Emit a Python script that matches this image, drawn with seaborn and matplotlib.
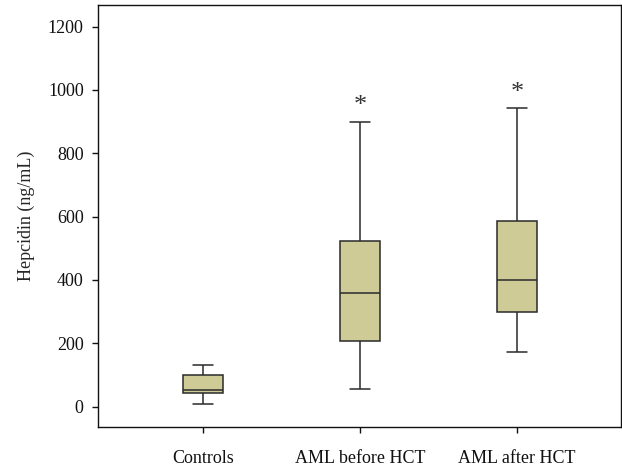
import pandas as pd
import seaborn as sns
import matplotlib
matplotlib.use("Agg")
import matplotlib.pyplot as plt

# five-number summaries (min, q1, median, q3, max)
groups = ["Controls", "AML before HCT", "AML after HCT"]
controls = [10, 42, 54, 99, 133]
aml_before = [57, 208, 359, 522, 900]
aml_after = [174, 298, 400, 585, 943]
starred = [False, True, True]

box_color = "#cfcb97"
line_color = "#2a2a2a"


def set_config():
    sns.set_style("ticks")
    plt.rcParams["font.family"] = ["Liberation Serif", "DejaVu Serif"]
    plt.rcParams["font.size"] = 13
    plt.rcParams["axes.linewidth"] = 1.0


def main():
    set_config()

    values = [controls, aml_before, aml_after]
    df = pd.DataFrame(
        [(g, v) for g, vals in zip(groups, values) for v in vals],
        columns=["group", "hepcidin"],
    )

    fig = plt.figure(figsize=(6.22, 4.71), dpi=100)
    ax = fig.add_axes([0.158, 0.0928, 0.8396, 0.8966])

    sns.boxplot(
        data=df, x="group", y="hepcidin", order=groups,
        whis=(0, 100), width=0.25, color=box_color, saturation=1,
        linecolor=line_color, linewidth=1.1, showfliers=False, ax=ax,
    )

    # asterisks above the whiskers
    for i, (vals, star) in enumerate(zip(values, starred)):
        if star:
            ax.annotate("*", xy=(i, max(vals)), xytext=(0, 11),
                        textcoords="offset points", ha="center", va="center",
                        fontsize=19, color="#333333")

    ax.set_xlim(-0.667, 2.66)
    ax.set_ylim(-65, 1268)
    ax.set_yticks(range(0, 1201, 200))
    ax.set_xlabel("")
    ax.set_ylabel("Hepcidin (ng/mL)", fontsize=13, labelpad=9)
    for side in ["top", "right", "left", "bottom"]:
        ax.spines[side].set_visible(True)
        ax.spines[side].set_color("#111111")
    ax.tick_params(axis="both", direction="out", length=4.5, width=1.0,
                   colors="#111111", labelsize=13)
    ax.tick_params(axis="x", pad=12)
    ax.tick_params(axis="y", pad=6)

    fig.savefig("out.png", dpi=100)


if __name__ == "__main__":
    main()
